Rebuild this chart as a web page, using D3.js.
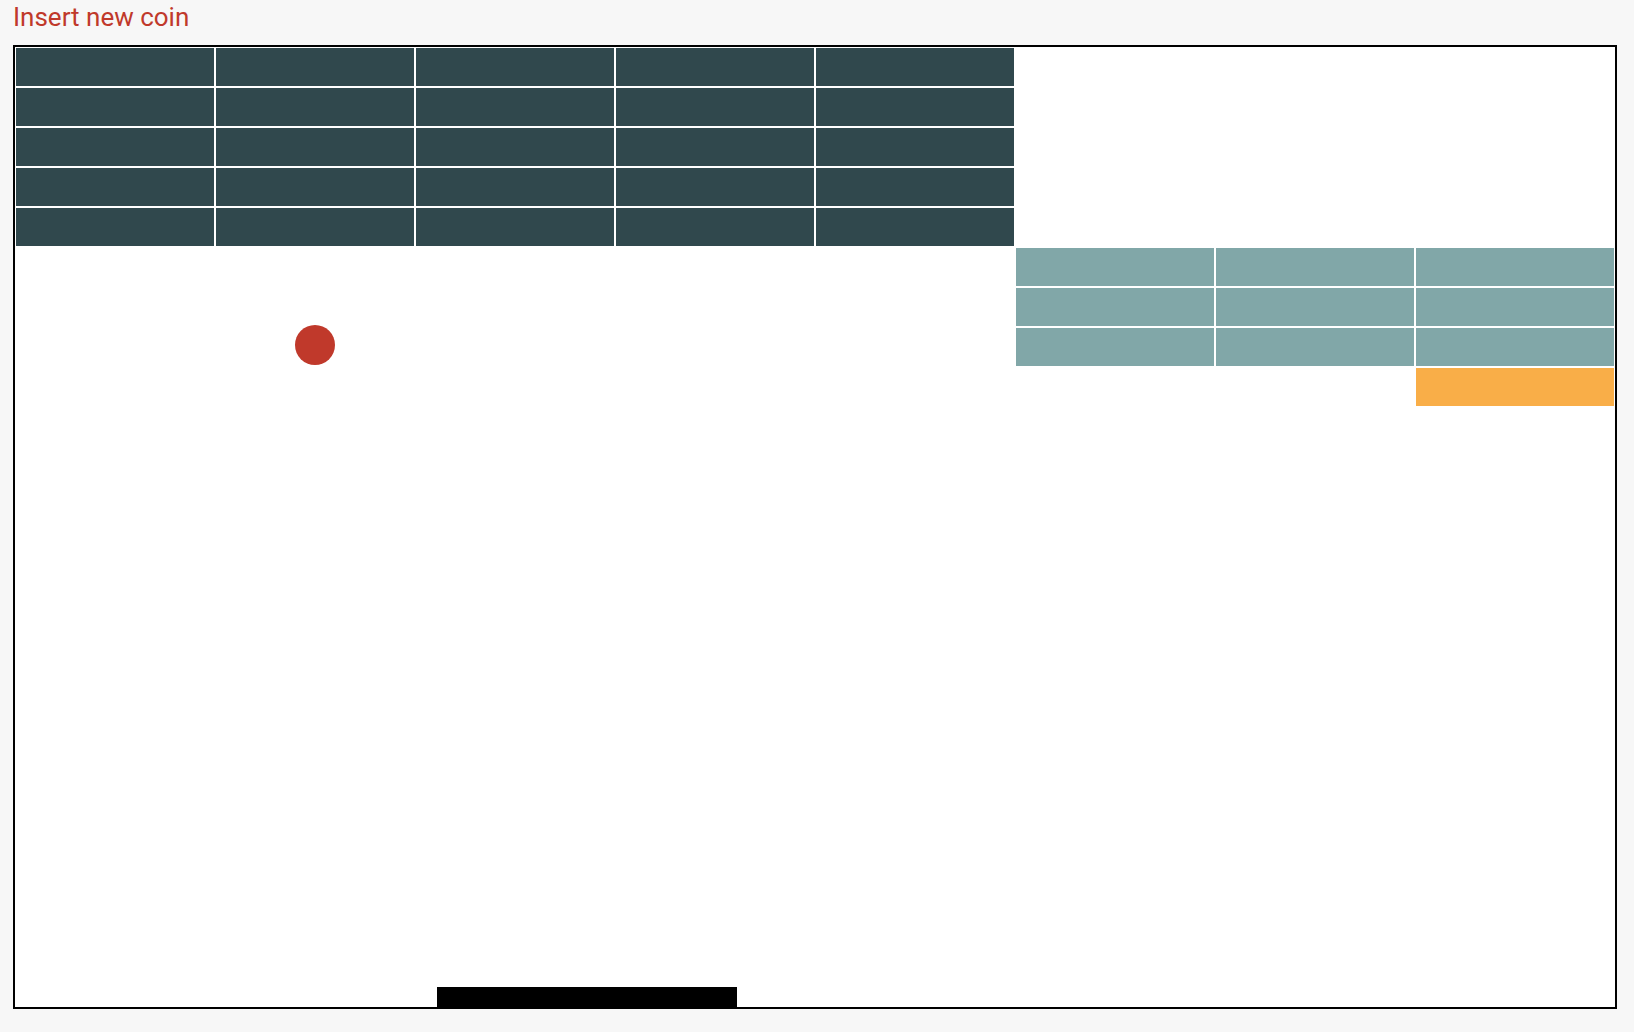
<!DOCTYPE html>
<html>
<head>
<meta charset="utf-8">
<script src="https://cdn.jsdelivr.net/npm/d3@7"></script>
<style>
  body { margin: 0; background: #f7f7f7; font-family: Roboto, "Liberation Sans", sans-serif; }
  #msg { position: absolute; left: 13px; top: 2px; color: #c0392b; font-size: 26px; }
  #game { position: absolute; left: 13px; top: 45px; border: 2px solid #000; background: #fff; width: 1600px; height: 960px; }
  svg { display: block; }
</style>
</head>
<body>
<div id="msg">Insert new coin</div>
<div id="game"></div>
<script>
// brick layout: one string per row, one char per column (d = dark, t = teal, o = orange, . = empty)
const brickRows = [
  "ddddd...",
  "ddddd...",
  "ddddd...",
  "ddddd...",
  "ddddd...",
  ".....ttt",
  ".....ttt",
  ".....ttt",
  ".......o"
];
const brickColors = { d: "#30484d", t: "#81a7a8", o: "#f9ae48" };
const ball = [{ x: 300, y: 298, r: 20 }];
const paddle = [{ x: 422, y: 940, w: 300, h: 20 }];

const field = { width: 1600, height: 960, cols: 8, rows: 24 };

document.addEventListener("DOMContentLoaded", () => {
  const svg = d3.select("#game").append("svg")
    .attr("width", field.width)
    .attr("height", field.height);

  const x = d3.scaleBand().domain(d3.range(field.cols)).range([0, field.width]);
  const y = d3.scaleBand().domain(d3.range(field.rows)).range([0, field.height]);

  const bricks = [];
  brickRows.forEach((row, r) => row.split("").forEach((c, i) => {
    if (c !== ".") bricks.push({ row: r, col: i, kind: c });
  }));

  svg.selectAll("rect.brick").data(bricks).join("rect")
    .attr("class", "brick")
    .attr("x", d => x(d.col) + 1)
    .attr("y", d => y(d.row) + 1)
    .attr("width", x.bandwidth() - 2)
    .attr("height", y.bandwidth() - 2)
    .attr("fill", d => brickColors[d.kind]);

  svg.selectAll("circle").data(ball).join("circle")
    .attr("cx", d => d.x).attr("cy", d => d.y).attr("r", d => d.r)
    .attr("fill", "#c0392b");

  svg.selectAll("rect.paddle").data(paddle).join("rect")
    .attr("class", "paddle")
    .attr("x", d => d.x).attr("y", d => d.y)
    .attr("width", d => d.w).attr("height", d => d.h)
    .attr("fill", "#000");
});
</script>
</body>
</html>
